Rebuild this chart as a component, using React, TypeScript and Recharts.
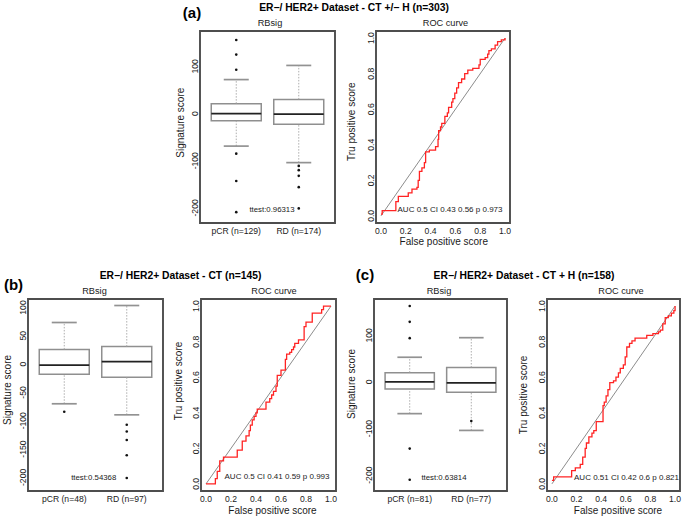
import React from 'react';
import { ComposedChart, XAxis, YAxis, Scatter, Line, ReferenceArea, ReferenceLine } from 'recharts';

const FONT = '"Liberation Sans", Arial, Helvetica, sans-serif';

// ---- panel (a) : CT +/- H ----
const groupsA = ['pCR (n=129)', 'RD (n=174)'];
// [lower whisker, q1, median, q3, upper whisker]
const statsA = [
  [-69, -15.5, 0, 21, 72],
  [-104, -22.5, -1, 30, 102],
];
const outliersA = [
  [156, 125, 93, -85, -143, -209],
  [-111, -120, -132, -156, -201],
];
const yTicksA = [-200, -100, 0, 100];
const yDomainA = [-232, 175];
const rocA = [
  [0, 0.01], [0.01, 0.03], [0.12, 0.08], [0.14, 0.11], [0.22, 0.13], [0.25, 0.15],
  [0.29, 0.16], [0.3, 0.2], [0.31, 0.25], [0.33, 0.27], [0.35, 0.3], [0.36, 0.36],
  [0.39, 0.37], [0.44, 0.39], [0.46, 0.43], [0.465, 0.48], [0.48, 0.5], [0.49, 0.52],
  [0.515, 0.56], [0.535, 0.58], [0.545, 0.61], [0.57, 0.64], [0.58, 0.66], [0.595, 0.69],
  [0.61, 0.72], [0.625, 0.75], [0.65, 0.77], [0.675, 0.8], [0.7, 0.82], [0.74, 0.83],
  [0.79, 0.85], [0.8, 0.88], [0.84, 0.89], [0.86, 0.91], [0.87, 0.93], [0.89, 0.94],
  [0.92, 0.96], [0.94, 0.98], [0.97, 0.99], [1, 1],
];

// ---- panel (b) : CT ----
const groupsB = ['pCR (n=48)', 'RD (n=97)'];
const statsB = [
  [-70, -17.7, -1.8, 26, 73.5],
  [-89.5, -23, 4.6, 31, 103.5],
];
const outliersB = [
  [-84],
  [-107, -119, -134, -161, -201],
];
const yTicksB = [-200, -150, -100, -50, 0, 50, 100];
const yDomainB = [-224, 115];
const rocB = [
  [0, 0], [0.075, 0.03], [0.09, 0.07], [0.11, 0.13], [0.14, 0.15], [0.25, 0.19],
  [0.29, 0.24], [0.32, 0.27], [0.345, 0.3], [0.355, 0.33], [0.37, 0.36], [0.385, 0.38],
  [0.4, 0.4], [0.41, 0.42], [0.48, 0.46], [0.51, 0.48], [0.525, 0.5], [0.54, 0.52],
  [0.56, 0.55], [0.57, 0.61], [0.6, 0.64], [0.635, 0.7], [0.645, 0.73], [0.67, 0.74],
  [0.685, 0.755], [0.7, 0.77], [0.71, 0.79], [0.74, 0.81], [0.785, 0.885], [0.8, 0.91],
  [0.85, 0.96], [0.925, 0.98], [0.94, 1], [1, 1],
];

// ---- panel (c) : CT + H ----
const groupsC = ['pCR (n=81)', 'RD (n=77)'];
const statsC = [
  [-68, -15, 0, 20, 53],
  [-104, -22, -2, 31, 95],
];
const outliersC = [
  [163, 129, 94, -143, -210],
  [-84],
];
const yTicksC = [-200, -100, 0, 100];
const yDomainC = [-234, 178];
const rocC = [
  [0, 0.02], [0.014, 0.04], [0.16, 0.075], [0.19, 0.09], [0.23, 0.11], [0.25, 0.15],
  [0.27, 0.2], [0.28, 0.23], [0.3, 0.265], [0.325, 0.285], [0.34, 0.3], [0.36, 0.35],
  [0.415, 0.44], [0.425, 0.46], [0.44, 0.495], [0.455, 0.53], [0.47, 0.57], [0.5, 0.58],
  [0.52, 0.6], [0.54, 0.625], [0.555, 0.65], [0.58, 0.67], [0.595, 0.715], [0.608, 0.77],
  [0.63, 0.79], [0.65, 0.805], [0.675, 0.82], [0.77, 0.835], [0.82, 0.845], [0.865, 0.855],
  [0.88, 0.865], [0.9, 0.9], [0.92, 0.935], [0.945, 0.945], [0.97, 0.96], [0.99, 0.975],
  [1, 1],
];

const rocTicks = [0, 0.2, 0.4, 0.6, 0.8, 1];
const ROC_DOMAIN = [-0.04, 1.04];
const BOX_X = [0.42, 2.58];

const ML = 40;
const MT = 6;
const MR = 6;
const MB = 34;

type Frame = { x: number; y: number; w: number; h: number };

const YTick = (props: any) => {
  const { x, y, payload, fmt } = props;
  return (
    <text transform={`translate(${x - 2.5},${y}) rotate(-90)`} textAnchor="middle" fontSize={8.6} fill="#222" fontFamily={FONT}>
      {fmt(payload.value)}
    </text>
  );
};

const XTick = (props: any) => {
  const { x, y, payload, fmt } = props;
  return (
    <text x={x} y={y + 10.5} textAnchor="middle" fontSize={8.6} fill="#222" fontFamily={FONT}>
      {fmt(payload.value)}
    </text>
  );
};

const BoxPanel = ({ frame, yDomain, yTicks, groups, stats, outliers }: any) => {
  const pts = outliers.flatMap((vals: number[], i: number) => vals.map((v) => ({ x: i + 1, y: v })));
  return (
    <div style={{ position: 'absolute', left: frame.x - ML, top: frame.y - MT }}>
      <ComposedChart width={frame.w + ML + MR} height={frame.h + MT + MB} margin={{ top: MT, right: MR, left: 0, bottom: 0 }}>
        <XAxis type="number" dataKey="x" domain={BOX_X} ticks={[1, 2]} allowDataOverflow height={MB}
          axisLine={false} tickLine={false} tickSize={0} tickMargin={0} interval={0}
          tick={(p: any) => <XTick {...p} fmt={(v: number) => groups[v - 1]} />} />
        <YAxis type="number" dataKey="y" domain={yDomain} ticks={yTicks} allowDataOverflow width={ML}
          axisLine={false} tickLine={false} tickSize={0} tickMargin={0} interval={0}
          tick={(p: any) => <YTick {...p} fmt={(v: number) => String(v)} />} />
        {stats.map((s: number[], i: number) => (
          <ReferenceArea key={`box${i}`} x1={i + 0.6} x2={i + 1.4} y1={s[1]} y2={s[3]}
            fill="#fff" fillOpacity={1} stroke="#8f8f8f" strokeWidth={1.5} />
        ))}
        {stats.map((s: number[], i: number) => {
          const c = i + 1;
          return [
            <ReferenceLine key={`wu${i}`} segment={[{ x: c, y: s[3] }, { x: c, y: s[4] }]} stroke="#a5a5a5" strokeWidth={0.9} strokeDasharray="1.5 1.5" />,
            <ReferenceLine key={`wl${i}`} segment={[{ x: c, y: s[0] }, { x: c, y: s[1] }]} stroke="#a5a5a5" strokeWidth={0.9} strokeDasharray="1.5 1.5" />,
            <ReferenceLine key={`cu${i}`} segment={[{ x: c - 0.2, y: s[4] }, { x: c + 0.2, y: s[4] }]} stroke="#929292" strokeWidth={1.7} />,
            <ReferenceLine key={`cl${i}`} segment={[{ x: c - 0.2, y: s[0] }, { x: c + 0.2, y: s[0] }]} stroke="#929292" strokeWidth={1.7} />,
            <ReferenceLine key={`md${i}`} segment={[{ x: c - 0.4, y: s[2] }, { x: c + 0.4, y: s[2] }]} stroke="#222" strokeWidth={1.8} />,
          ];
        })}
        <Scatter data={pts} isAnimationActive={false}
          shape={(p: any) => <circle cx={p.cx} cy={p.cy} r={1.3} fill="#111" />} />
        <ReferenceArea x1={BOX_X[0]} x2={BOX_X[1]} y1={yDomain[0]} y2={yDomain[1]} fill="none" stroke="#4d4d4d" strokeWidth={1.9} />
      </ComposedChart>
    </div>
  );
};

const RocPanel = ({ frame, curve }: { frame: Frame; curve: number[][] }) => {
  const data = curve.map(([fpr, tpr]) => ({ fpr, tpr }));
  return (
    <div style={{ position: 'absolute', left: frame.x - ML, top: frame.y - MT }}>
      <ComposedChart data={data} width={frame.w + ML + MR} height={frame.h + MT + MB} margin={{ top: MT, right: MR, left: 0, bottom: 0 }}>
        <XAxis type="number" dataKey="fpr" domain={ROC_DOMAIN} ticks={rocTicks} allowDataOverflow height={MB}
          axisLine={false} tickLine={false} tickSize={0} tickMargin={0} interval={0}
          tick={(p: any) => <XTick {...p} fmt={(v: number) => v.toFixed(1)} />} />
        <YAxis type="number" domain={ROC_DOMAIN} ticks={rocTicks} allowDataOverflow width={ML}
          axisLine={false} tickLine={false} tickSize={0} tickMargin={0} interval={0}
          tick={(p: any) => <YTick {...p} fmt={(v: number) => v.toFixed(1)} />} />
        <ReferenceLine segment={[{ x: 0, y: 0 }, { x: 1, y: 1 }]} stroke="#6f6f6f" strokeWidth={0.8} />
        <Line dataKey="tpr" type="stepAfter" stroke="#ff2323" strokeWidth={1.3} dot={false} isAnimationActive={false} />
        <ReferenceArea x1={ROC_DOMAIN[0]} x2={ROC_DOMAIN[1]} y1={ROC_DOMAIN[0]} y2={ROC_DOMAIN[1]} fill="none" stroke="#4d4d4d" strokeWidth={1.9} />
      </ComposedChart>
    </div>
  );
};

const frames: Record<string, Frame> = {
  boxA: { x: 200, y: 31, w: 135, h: 192 },
  rocA: { x: 376, y: 31, w: 134, h: 192 },
  boxB: { x: 28, y: 299, w: 135, h: 192 },
  rocB: { x: 201, y: 299, w: 135, h: 192 },
  boxC: { x: 374, y: 299, w: 133, h: 192 },
  rocC: { x: 547, y: 299, w: 133, h: 192 },
};

const Txt = ({ x, y, size, bold, rot, anchor, children }: any) => (
  <text x={rot ? 0 : x} y={rot ? 0 : y} transform={rot ? `translate(${x},${y}) rotate(-90)` : undefined}
    textAnchor={anchor || 'middle'} fontSize={size} fontWeight={bold ? 'bold' : 'normal'}
    fill={bold ? '#000' : '#1a1a1a'} fontFamily={FONT}>
    {children}
  </text>
);

export default function App() {
  return (
    <div style={{ position: 'absolute', left: 0, top: 0, width: 685, height: 518, background: '#fff', overflow: 'hidden' }}>
      <BoxPanel frame={frames.boxA} yDomain={yDomainA} yTicks={yTicksA} groups={groupsA} stats={statsA} outliers={outliersA} />
      <RocPanel frame={frames.rocA} curve={rocA} />
      <BoxPanel frame={frames.boxB} yDomain={yDomainB} yTicks={yTicksB} groups={groupsB} stats={statsB} outliers={outliersB} />
      <RocPanel frame={frames.rocB} curve={rocB} />
      <BoxPanel frame={frames.boxC} yDomain={yDomainC} yTicks={yTicksC} groups={groupsC} stats={statsC} outliers={outliersC} />
      <RocPanel frame={frames.rocC} curve={rocC} />
      <svg width={685} height={518} style={{ position: 'absolute', left: 0, top: 0, pointerEvents: 'none' }}>
        <Txt x={354} y={11} size={10.3} bold>ER−/ HER2+ Dataset - CT +/− H (n=303)</Txt>
        <Txt x={180.5} y={279} size={10.3} bold>ER−/ HER2+ Dataset - CT (n=145)</Txt>
        <Txt x={524} y={279} size={10.3} bold>ER−/ HER2+ Dataset - CT + H (n=158)</Txt>
        <Txt x={192} y={18} size={15} bold>(a)</Txt>
        <Txt x={13.5} y={290} size={15} bold>(b)</Txt>
        <Txt x={365} y={280} size={15} bold>(c)</Txt>

        <Txt x={270} y={26} size={9.2}>RBsig</Txt>
        <Txt x={94.5} y={294} size={9.2}>RBsig</Txt>
        <Txt x={439} y={294} size={9.2}>RBsig</Txt>
        <Txt x={445.5} y={26} size={9.2}>ROC curve</Txt>
        <Txt x={274} y={294} size={9.2}>ROC curve</Txt>
        <Txt x={621} y={294} size={9.2}>ROC curve</Txt>

        <Txt x={184.3} y={122.7} size={10} rot>Signature score</Txt>
        <Txt x={11} y={390} size={10} rot>Signature score</Txt>
        <Txt x={355} y={384} size={10} rot>Signature score</Txt>
        <Txt x={355.3} y={121.7} size={10} rot>Tru positive score</Txt>
        <Txt x={181.5} y={381} size={10} rot>Tru positive score</Txt>
        <Txt x={527} y={395} size={10} rot>Tru positive score</Txt>
        <Txt x={443.8} y={245} size={10}>False positive score</Txt>
        <Txt x={272.5} y={513.5} size={10}>False positive score</Txt>
        <Txt x={618} y={513.5} size={10}>False positive score</Txt>

        <Txt x={272} y={212} size={7.8}>ttest:0.96313</Txt>
        <Txt x={93.7} y={479.7} size={7.8}>ttest:0.54368</Txt>
        <Txt x={444} y={479.7} size={7.8}>ttest:0.63814</Txt>
        <Txt x={450} y={212} size={8}>AUC 0.5 CI 0.43 0.56 p 0.973</Txt>
        <Txt x={277} y={479} size={8}>AUC 0.5 CI 0.41 0.59 p 0.993</Txt>
        <Txt x={626.5} y={479.7} size={8}>AUC 0.51 CI 0.42 0.6 p 0.821</Txt>
      </svg>
    </div>
  );
}
